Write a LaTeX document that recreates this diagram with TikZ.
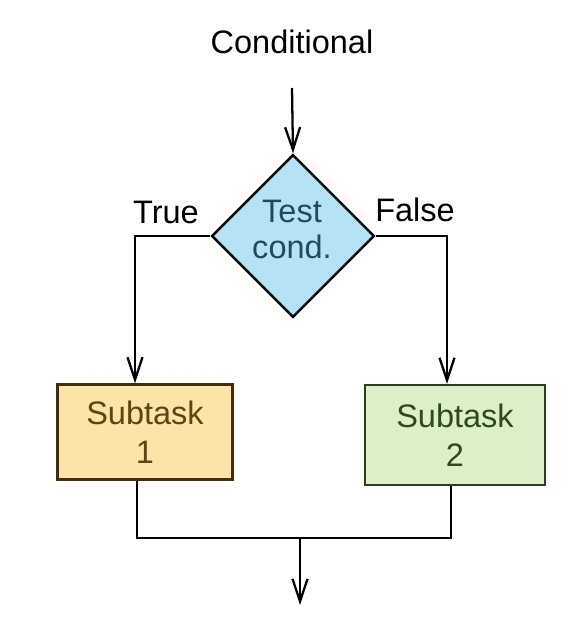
\documentclass[tikz,border=0pt]{standalone}
\usepackage{fontspec}
\setmainfont{Liberation Sans}
\usetikzlibrary{shapes.geometric,arrows.meta}
\definecolor{condfill}{HTML}{B5E3F5}
\definecolor{condtext}{HTML}{1F4B5E}
\definecolor{onefill}{HTML}{FCE3A7}
\definecolor{oneline}{HTML}{3F2F0A}
\definecolor{onetext}{HTML}{5A4513}
\definecolor{twofill}{HTML}{DDEFC9}
\definecolor{twoline}{HTML}{28401E}
\definecolor{twotext}{HTML}{2C4A22}
\tikzset{
  flow/.style={line width=1.3pt,-{Straight Barb[length=4.5mm,width=3mm,line width=1.3pt]}},
  wire/.style={line width=1.3pt},
  txt/.style={font=\fontsize{18.5}{22}\selectfont},
  taskbox/.style={rectangle,draw,line width=1.4pt,align=center,txt,inner sep=0pt}
}
\begin{document}
\begin{tikzpicture}[x=0.02cm,y=-0.02cm]
  \useasboundingbox (0,0) rectangle (565,631);
  % heading and entry
  \node[txt] (title) at (292,42) {Conditional};
  \coordinate (entry) at (292,88);
  \node[diamond,draw,line width=1.4pt,fill=condfill,text=condtext,
        minimum width=3.26cm,minimum height=3.26cm,inner sep=0pt,
        align=center,txt] (test) at (293,236) {};
  \node[txt,text=condtext,align=center,font=\fontsize{18.5}{20.5}\selectfont]
        (testlbl) at (292,229) {Test\\cond.};
  \draw[flow] (entry) -- (test.north);
  % the two branches
  \node[taskbox,fill=onefill,draw=oneline,text=onetext,
        minimum width=3.5cm,minimum height=1.9cm] (sub1) at (145,432) {Subtask\\1};
  \node[taskbox,fill=twofill,draw=twoline,text=twotext,
        minimum width=3.6cm,minimum height=2cm] (sub2) at (455,435) {Subtask\\2};
  \draw[flow] (test.west) -| (sub1.north -| 135,0);
  \draw[flow] (test.east) -| (sub2.north -| 447,0);
  \node[txt] (yes) at (166,212) {True};
  \node[txt] (no) at (415,210) {False};
  % merge
  \coordinate (join) at (300,538);
  \coordinate (exit) at (300,605);
  \draw[wire] (sub1.south -| 137,0) |- (join) -| (sub2.south -| 451,0);
  \draw[flow] (join) -- (exit);
\end{tikzpicture}
\end{document}
